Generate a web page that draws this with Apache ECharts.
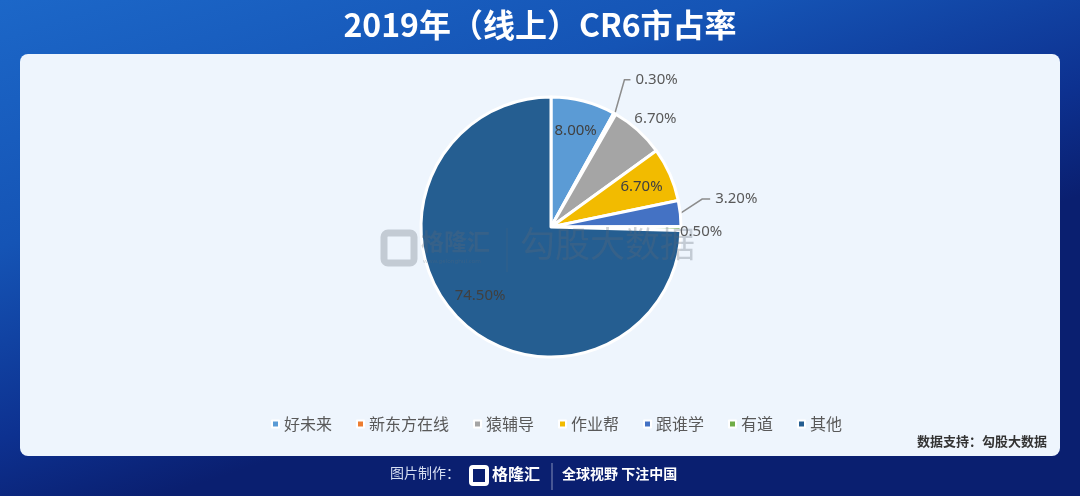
<!DOCTYPE html>
<html>
<head>
<meta charset="utf-8">
<title>2019年（线上）CR6市占率</title>
<script src="https://cdn.jsdelivr.net/npm/echarts@6/dist/echarts.min.js"></script>
<style>
	html, body { margin: 0; padding: 0; }
	#cr6-chart { width: 1080px; height: 496px; }
</style>
</head>
<body>
<div id="cr6-chart"></div>
<script>
	var companies = ['好未来', '新东方在线', '猿辅导', '作业帮', '跟谁学', '有道', '其他'];
	var shares = [8.0, 0.3, 6.7, 6.7, 3.2, 0.5, 74.5];
	var colors = ['#5b9bd5', '#ed7d31', '#a5a5a5', '#f2bb00', '#4472c4', '#70ad47', '#255e91'];

	// 哪些标签放在扇区内
	var insideNames = ['好未来', '作业帮', '其他'];
	// 外部标签引导线 + 微调
	var outsideLine = {
		'新东方在线': { show: true, length: 32, length2: 6, dx: -6, dy: -6 },
		'猿辅导': { show: false, length: 8, length2: 0, dx: -14, dy: -6 },
		'跟谁学': { show: true, length: 22, length2: 8, dx: 0, dy: -12 },
		'有道': { show: false, length: 0, length2: 0, dx: -6, dy: 3 }
	};

	var cr6_chart = echarts.init(document.getElementById('cr6-chart'));
	var labelFont = '"Noto Sans", sans-serif';
	var cjkFont = '"Noto Sans CJK SC", sans-serif';
	var wmColor = 'rgba(96,106,120,0.3)';

	function fmt(v) {
		return v.toFixed(2) + '%';
	}

	var mainData = [], labelData = [];
	for (var i = 0; i < companies.length; i++) {
		var name = companies[i];
		var inside = insideNames.indexOf(name) >= 0;
		var line = outsideLine[name] || { show: false, length: 0, length2: 0 };
		mainData.push({
			name: name,
			value: shares[i],
			itemStyle: { color: colors[i] },
			label: { show: !inside },
			labelLine: {
				show: !inside && line.show,
				length: line.length,
				length2: line.length2
			}
		});
		labelData.push({
			name: name,
			value: shares[i],
			label: { show: inside }
		});
	}

	var option = {
		backgroundColor: {
			type: 'linear', x: 0, y: 0, x2: 0.15, y2: 1,
			colorStops: [
				{ offset: 0, color: '#1c67c8' },
				{ offset: 0.45, color: '#1554b5' },
				{ offset: 0.8, color: '#0d3190' },
				{ offset: 1, color: '#0a1f70' }
			]
		},
		graphic: [
			{
				type: 'rect', z: -10, silent: true,
				shape: { x: 20, y: 54, width: 1040, height: 402, r: 8 },
				style: { fill: '#eef5fd' }
			},
			{
				type: 'text', left: 'center', top: 9,
				style: {
					text: '2019年（线上）CR6市占率', fill: '#fff',
					font: 'bold 32px ' + cjkFont
				}
			},
			{
				type: 'text', right: 33, top: 435,
				style: { text: '数据支持：勾股大数据', fill: '#333', font: 'bold 13px ' + cjkFont }
			},
			// 水印
			{
				type: 'rect', z: 100, silent: true, shape: { x: 384, y: 233, width: 30, height: 30, r: 4 },
				style: { fill: 'none', stroke: wmColor, lineWidth: 7 }
			},
			{
				type: 'text', z: 100, silent: true, x: 421, y: 230,
				style: { text: '格隆汇', fill: wmColor, font: 'bold 23px ' + cjkFont }
			},
			{
				type: 'text', z: 100, silent: true, x: 423, y: 258,
				style: { text: 'www.gelonghui.com', fill: wmColor, font: '6px ' + labelFont }
			},
			{
				type: 'line', z: 100, silent: true, shape: { x1: 507, y1: 228, x2: 507, y2: 272 },
				style: { stroke: 'rgba(96,106,120,0.25)', lineWidth: 1 }
			},
			{
				type: 'text', z: 100, silent: true, x: 520, y: 226,
				style: { text: '勾股大数据', fill: wmColor, font: '35px ' + cjkFont }
			},
			// 底部
			{
				type: 'text', x: 390, y: 466,
				style: { text: '图片制作：', fill: '#d6def2', font: '14px ' + cjkFont }
			},
			{
				type: 'rect', shape: { x: 471, y: 467, width: 16, height: 17, r: 2 },
				style: { fill: 'none', stroke: '#fff', lineWidth: 4 }
			},
			{
				type: 'text', x: 492, y: 466,
				style: { text: '格隆汇', fill: '#fff', font: 'bold 16px ' + cjkFont }
			},
			{
				type: 'line', shape: { x1: 552, y1: 463, x2: 552, y2: 490 },
				style: { stroke: 'rgba(255,255,255,0.5)', lineWidth: 1 }
			},
			{
				type: 'text', x: 562, y: 467,
				style: { text: '全球视野 下注中国', fill: '#fff', font: 'bold 14px ' + cjkFont }
			}
		],
		legend: {
			data: companies,
			left: 266,
			top: 411,
			icon: 'rect',
			itemWidth: 7,
			itemHeight: 7,
			itemGap: 24,
			textStyle: { color: '#595959', fontSize: 16, fontFamily: cjkFont }
		},
		series: [
			{
				name: '市占率',
				type: 'pie',
				center: [551, 227],
				radius: [0, 130],
				startAngle: 90,
				avoidLabelOverlap: false,
				itemStyle: { borderColor: '#fff', borderWidth: 3 },
				label: {
					position: 'outside',
					color: '#595959',
					fontSize: 15,
					fontFamily: labelFont,
					formatter: function (p) { return fmt(p.value); }
				},
				labelLine: {
					smooth: false,
					lineStyle: { color: '#8c8c8c', width: 1.5 }
				},
				labelLayout: function (p) {
					var adj = outsideLine[companies[p.dataIndex]];
					if (!adj) return {};
					var res = { dx: adj.dx, dy: adj.dy };
					var pts = p.labelLinePoints;
					if (pts && pts.length === 3) {
						// 折点和末端跟着标签一起移动
						res.labelLinePoints = [
							[pts[0][0], pts[0][1]],
							[pts[1][0] + adj.dx, pts[1][1] + adj.dy],
							[pts[2][0] + adj.dx, pts[2][1] + adj.dy]
						];
					}
					return res;
				},
				emphasis: { disabled: true },
				data: mainData
			},
			{
				name: '标签',
				type: 'pie',
				center: [551, 227],
				radius: [62, 130],
				startAngle: 90,
				silent: true,
				itemStyle: { color: 'rgba(0,0,0,0)' },
				label: {
					position: 'inside',
					color: '#404040',
					fontSize: 15,
					fontFamily: labelFont,
					formatter: function (p) { return fmt(p.value); }
				},
				labelLine: { show: false },
				emphasis: { disabled: true },
				data: labelData
			}
		]
	};

	cr6_chart.setOption(option);
</script>
</body>
</html>
